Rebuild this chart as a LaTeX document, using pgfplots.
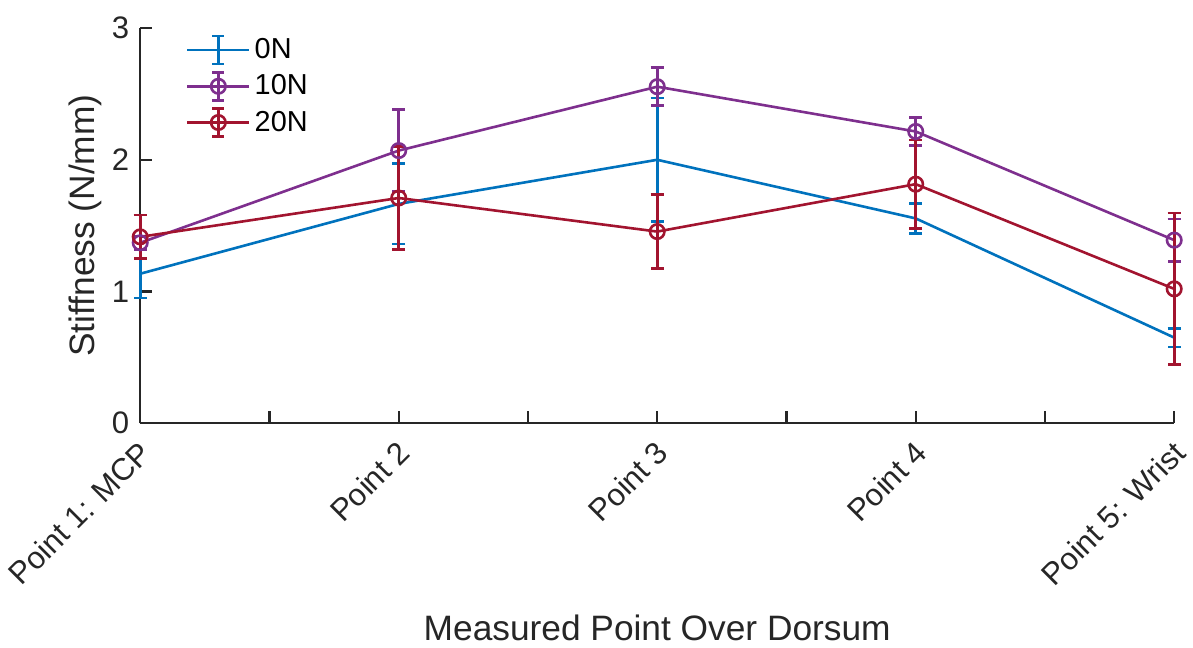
\documentclass[border=0pt]{standalone}
\usepackage{pgfplots}
\pgfplotsset{compat=1.18}
\usepackage{fontspec}
\setmainfont{Liberation Sans}
\definecolor{c0}{rgb}{0,0.447,0.741}
\definecolor{c1}{rgb}{0.494,0.184,0.556}
\definecolor{c2}{rgb}{0.635,0.078,0.184}
\definecolor{axc}{rgb}{0.15,0.15,0.15}
\begin{document}
\begin{tikzpicture}
\begin{axis}[
  scale only axis, width=515.5pt, height=197pt,
  xmin=1, xmax=5, ymin=0, ymax=3,
  axis x line*=bottom, axis y line*=left,
  axis line style={axc, line width=1.1pt},
  tick style={axc, line width=1.1pt},
  major tick length=6pt,
  tick align=inside,
  xtick={1,1.5,2,2.5,3,3.5,4,4.5,5},
  xticklabels={{Point 1: MCP},{},{Point 2},{},{Point 3},{},{Point 4},{},{Point 5: Wrist}},
  ytick={0,1,2,3},
  /pgf/number format/assume math mode=true,
  ticklabel style={font=\fontsize{15.5}{18}\selectfont, text=axc},
  xticklabel style={xshift=-1.5pt, yshift=-5pt, rotate=45, anchor=north east, inner sep=2pt},
  yticklabel style={xshift=-2pt},
  xlabel={Measured Point Over Dorsum},
  ylabel={Stiffness (N/mm)},
  xlabel style={yshift=-7pt},
  ylabel style={yshift=-2pt},
  label style={font=\fontsize{17.6}{21}\selectfont, text=axc},
  clip=false,
  legend style={at={(rel axis cs:0.038,0.995)}, anchor=north west, draw=none, fill=none,
    font=\fontsize{14.4}{17}\selectfont, row sep=2.5pt},
  legend cell align=left,
  legend image code/.code={
    \draw[mark repeat=2,mark phase=2,#1] plot coordinates {(0pt,0pt)(15.5pt,0pt)(31pt,0pt)};
    \draw[#1] (15.5pt,-7pt) -- (15.5pt,7pt);
    \draw[#1] (12.5pt,-7pt) -- (18.5pt,-7pt);
    \draw[#1] (12.5pt,7pt) -- (18.5pt,7pt);
  },
  every axis plot/.append style={line width=1.3pt},
  error bars/y dir=both, error bars/y explicit,
  error bars/error mark options={rotate=90, mark size=3.25pt, line width=1.3pt},
]
\path (rel axis cs:0,1) -- ([yshift=14pt]rel axis cs:0,1);
\addplot[c0, mark=none, error bars/error bar style={c0, line width=1.3pt}] coordinates {
 (1,1.135) +- (0,0.185)
 (2,1.665) +- (0,0.305)
 (3,2.00)  +- (0,0.47)
 (4,1.555) +- (0,0.115)
 (5,0.65)  +- (0,0.07)
};
\addlegendentry{0N}
\addplot[c1, mark=o, mark size=3.6pt, mark options={line width=1.3pt}, error bars/error bar style={c1, line width=1.3pt}] coordinates {
 (1,1.37)  +- (0,0.05)
 (2,2.07)  +- (0,0.31)
 (3,2.555) +- (0,0.145)
 (4,2.215) +- (0,0.105)
 (5,1.39)  +- (0,0.16)
};
\addlegendentry{10N}
\addplot[c2, mark=o, mark size=3.6pt, mark options={line width=1.3pt}, error bars/error bar style={c2, line width=1.3pt}] coordinates {
 (1,1.415) +- (0,0.165)
 (2,1.71)  +- (0,0.39)
 (3,1.455) +- (0,0.28)
 (4,1.815) +- (0,0.335)
 (5,1.02)  +- (0,0.575)
};
\addlegendentry{20N}
\end{axis}
\end{tikzpicture}
\end{document}
